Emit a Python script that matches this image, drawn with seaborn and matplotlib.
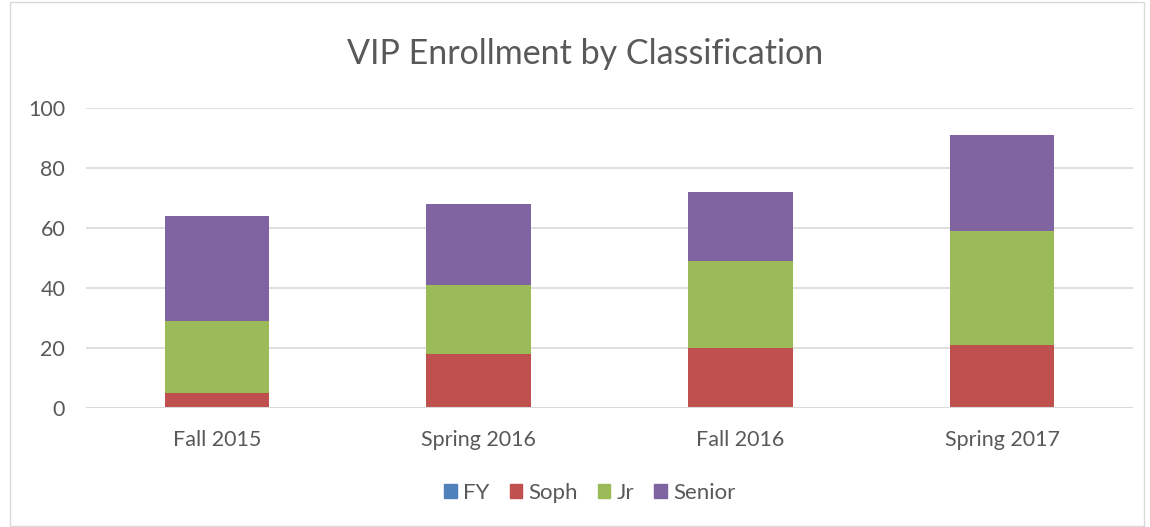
import matplotlib.pyplot as plt
import matplotlib.patches as mpatches
import seaborn as sns
import numpy as np
import pandas as pd

terms = ["Fall 2015", "Spring 2016", "Fall 2016", "Spring 2017"]
fy = [0, 0, 0, 0]
soph = [5, 18, 20, 21]
jr = [24, 23, 29, 38]
senior = [35, 27, 23, 32]

series = ["FY", "Soph", "Jr", "Senior"]
colors = ["#4F81BD", "#C0504D", "#9BBB59", "#8064A2"]
text_color = "#595959"
grid_color = "#D9D9D9"

sns.set_style("white")
plt.rcParams["font.family"] = ["Lato", "DejaVu Sans"]

fig = plt.figure(figsize=(11.5, 5.27), dpi=100)
ax = fig.add_axes([86 / 1150, 1 - 408 / 527, (1133 - 86) / 1150, 300 / 527])

df = pd.DataFrame({"term": terms, "FY": fy, "Soph": soph, "Jr": jr, "Senior": senior})

bottom = np.zeros(len(terms))
for name, color in zip(series, colors):
    sns.barplot(data=df, x="term", y=name, color=color, bottom=bottom, width=0.4,
                saturation=1, ax=ax, zorder=3, linewidth=0)
    bottom = bottom + df[name].values

ax.set_ylim(0, 100)
ax.set_xlim(-0.5, len(terms) - 0.5)
ax.set_yticks(np.arange(0, 101, 20))
ax.yaxis.grid(True, color=grid_color, linewidth=1.2, zorder=0)
ax.set_axisbelow(True)
sns.despine(ax=ax, left=True, bottom=True, top=True, right=True)
ax.axhline(0, color=grid_color, linewidth=1.5, zorder=4)
ax.set_xlabel("")
ax.set_ylabel("")
ax.tick_params(axis="both", length=0, labelsize=15.5, colors=text_color)
ax.tick_params(axis="y", pad=15)
ax.tick_params(axis="x", pad=16)

fig.text(585 / 1150, 1 - 54 / 527, "VIP Enrollment by Classification", ha="center", va="center",
         fontsize=24.5, color=text_color)

handles = [mpatches.Patch(color=c, label=s) for s, c in zip(series, colors)]
fig.legend(handles=handles, loc="center", bbox_to_anchor=(590 / 1150, 1 - 493 / 527), ncol=4,
           frameon=False, fontsize=16, handlelength=0.55, handleheight=0.55,
           handletextpad=0.3, columnspacing=0.9, labelcolor=text_color)

fig.patches.append(mpatches.Rectangle((10 / 1150, 1 / 527), 1134 / 1150, 524 / 527,
                                      transform=fig.transFigure, fill=False,
                                      edgecolor=grid_color, linewidth=1))

fig.savefig("out.png", dpi=100)
